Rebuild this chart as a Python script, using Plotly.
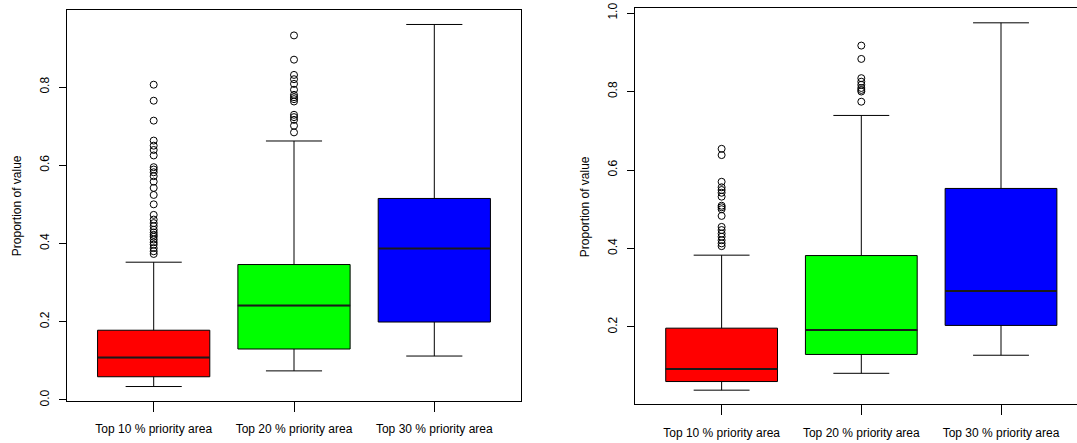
import plotly.graph_objects as go

categories = ["Top 10 % priority area", "Top 20 % priority area", "Top 30 % priority area"]
colors = ["#FF0000", "#00FF00", "#0000FF"]
positions = [1, 2, 3]

# Left panel statistics
left_q1 = [0.059, 0.130, 0.199]
left_median = [0.108, 0.241, 0.387]
left_q3 = [0.178, 0.346, 0.515]
left_lower = [0.034, 0.074, 0.112]
left_upper = [0.352, 0.662, 0.960]
left_outliers = [
    [0.806, 0.765, 0.714, 0.663, 0.650, 0.639, 0.625, 0.595, 0.589, 0.582, 0.572,
     0.558, 0.542, 0.524, 0.500, 0.473, 0.461, 0.452, 0.444, 0.435, 0.428, 0.422,
     0.417, 0.410, 0.403, 0.397, 0.388, 0.380, 0.373],
    [0.932, 0.870, 0.831, 0.820, 0.808, 0.793, 0.780, 0.774, 0.769, 0.763, 0.729,
     0.723, 0.716, 0.701, 0.684],
    [],
]

# Right panel statistics
right_q1 = [0.061, 0.130, 0.204]
right_median = [0.093, 0.192, 0.292]
right_q3 = [0.197, 0.382, 0.553]
right_lower = [0.039, 0.082, 0.128]
right_upper = [0.383, 0.739, 0.975]
right_outliers = [
    [0.654, 0.638, 0.570, 0.556, 0.549, 0.542, 0.532, 0.509, 0.505, 0.500, 0.483,
     0.455, 0.447, 0.438, 0.430, 0.421, 0.413, 0.406],
    [0.917, 0.883, 0.834, 0.825, 0.817, 0.809, 0.804, 0.800, 0.774],
    [],
]
y_title = "Proportion of value"

BOX_W = 0.8
FONT = "Liberation Sans Narrow, Arial Narrow, Liberation Sans, Arial, sans-serif"
FS = 12

fig = go.Figure()


def add_panel(q1, med, q3, lo, hi, outs, xa, ya):
    for i, pos in enumerate(positions):
        fig.add_trace(go.Box(
            x=[pos], q1=[q1[i]], median=[med[i]], q3=[q3[i]],
            lowerfence=[lo[i]], upperfence=[hi[i]],
            width=BOX_W, whiskerwidth=0.5,
            fillcolor=colors[i], line=dict(color="black", width=1),
            boxpoints=False, showlegend=False, hoverinfo="skip",
            xaxis=xa, yaxis=ya,
        ))
        # thicker median line
        fig.add_trace(go.Scatter(
            x=[pos - BOX_W / 2, pos + BOX_W / 2], y=[med[i], med[i]],
            mode="lines", line=dict(color="#1a1a1a", width=2),
            showlegend=False, hoverinfo="skip", xaxis=xa, yaxis=ya,
        ))
        if outs[i]:
            fig.add_trace(go.Scatter(
                x=[pos] * len(outs[i]), y=outs[i], mode="markers",
                marker=dict(symbol="circle-open", size=7,
                            color="black", line=dict(width=1, color="black")),
                showlegend=False, hoverinfo="skip", xaxis=xa, yaxis=ya,
            ))


add_panel(left_q1, left_median, left_q3, left_lower, left_upper, left_outliers, "x", "y")
add_panel(right_q1, right_median, right_q3, right_lower, right_upper, right_outliers, "x2", "y2")

W, H = 1077, 443

xcommon = dict(
    tickmode="array", tickvals=positions, ticktext=categories, tickangle=0,
    ticks="outside", ticklen=10, tickcolor="black", tickwidth=1,
    showline=True, linecolor="black", linewidth=1,
    showgrid=False, zeroline=False, automargin=False, ticklabelstandoff=7,
    tickfont=dict(family=FONT, size=FS, color="black"),
)
ycommon = dict(
    ticks="outside", ticklen=7, tickcolor="black", tickwidth=1,
    showline=True, linecolor="black", linewidth=1,
    showgrid=False, zeroline=False, tick0=0, dtick=0.2, tickformat=".1f",
    tickangle=-90, automargin=False, ticklabelstandoff=5,
    tickfont=dict(family=FONT, size=FS, color="black"),
)

ly = [(H - 401) / H, (H - 10) / H]
ry = [(H - 404.3) / H, (H - 8.3) / H]
right_left_px = 635.0
right_spacing = 139.7

fig.update_layout(
    width=W, height=H,
    margin=dict(l=0, r=0, t=0, b=0),
    paper_bgcolor="white", plot_bgcolor="white",
    xaxis=dict(**xcommon, domain=[66.7 / W, 521.3 / W], range=[0.38, 3.62], mirror=True, anchor="y"),
    yaxis=dict(**ycommon, domain=ly, range=[-0.003, 0.997], mirror=True, anchor="x"),
    xaxis2=dict(**xcommon, domain=[right_left_px / W, 1.0],
                range=[0.38, 0.38 + (W - right_left_px) / right_spacing], mirror=True, anchor="y2"),
    yaxis2=dict(**ycommon, domain=ry, range=[0.003, 1.012], mirror=False, anchor="x2"),
    annotations=[
        dict(text=y_title, xref="paper", yref="paper", x=16.4 / W, y=(H - 205.8) / H,
             textangle=-90, showarrow=False, xanchor="center", yanchor="middle",
             font=dict(family=FONT, size=FS, color="black")),
        dict(text=y_title, xref="paper", yref="paper", x=584.5 / W, y=(H - 206.7) / H,
             textangle=-90, showarrow=False, xanchor="center", yanchor="middle",
             font=dict(family=FONT, size=FS, color="black")),
    ],
)

fig.write_html("out.html")
